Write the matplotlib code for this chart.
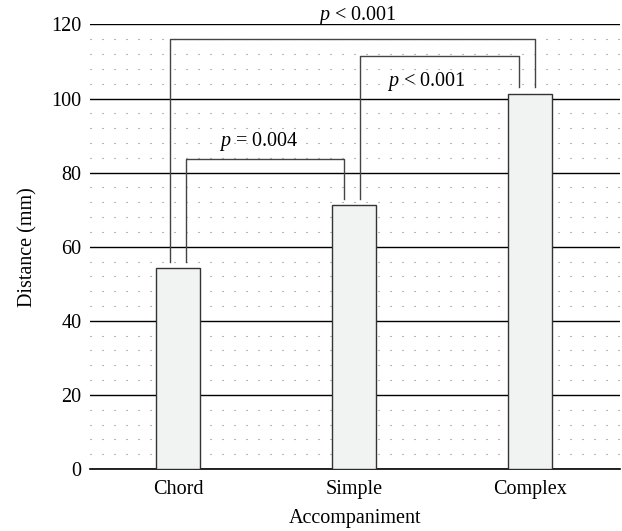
import matplotlib
matplotlib.use("Agg")
import matplotlib.pyplot as plt
from matplotlib.ticker import MultipleLocator

plt.rcParams['font.family'] = ['Liberation Serif', 'DejaVu Serif']
plt.rcParams['mathtext.fontset'] = 'custom'
plt.rcParams['mathtext.it'] = 'Liberation Serif:italic'
plt.rcParams['mathtext.rm'] = 'Liberation Serif'
plt.rcParams['lines.scale_dashes'] = False

# data
categories = ['Chord', 'Simple', 'Complex']
distance = [54.3, 71.4, 101.3]

# significance brackets: (left bar, right bar, left offset, right offset,
#                         left foot, right foot, top, label, label y)
brackets = [
    (0, 1, 0.043, -0.058, 56, 73, 83.6, '$p$ = 0.004', 88.5),
    (0, 2, -0.047, 0.027, 56, 103, 116, '$p$ < 0.001', 122.3),
    (1, 2, 0.034, -0.0625, 73, 103, 111.5, '$p$ < 0.001', 104.5),
]
label_x = [0.46, 1.02, 1.41]

FS = 14.5

fig = plt.figure(figsize=(6.22, 5.31), dpi=100)
ax = fig.add_axes([0.1447, 0.1168, 0.8521, 0.8371])

x = list(range(len(categories)))
ax.bar(x, distance, width=0.25, color='#f1f2f2', edgecolor='#333333',
       linewidth=1.0, zorder=3)

ax.set_xlim(-0.5, 2.51)
ax.set_ylim(0, 120)
ax.yaxis.set_major_locator(MultipleLocator(20))
ax.yaxis.set_minor_locator(MultipleLocator(4))
ax.set_axisbelow(True)
ax.grid(axis='y', which='major', color='black', linewidth=1.0)
ax.grid(axis='y', which='minor', color='#7a7a7a', linewidth=0.8,
        linestyle=(0, (0.75, 7.89)))

for s in ['top', 'right', 'left']:
    ax.spines[s].set_visible(False)
ax.spines['bottom'].set_linewidth(1.2)
ax.tick_params(axis='both', which='both', length=0, labelsize=FS)
ax.tick_params(axis='y', pad=6)
ax.tick_params(axis='x', pad=8)
ax.set_xticks(x)
ax.set_xticklabels(categories)

ax.set_ylabel('Distance (mm)', fontsize=FS, labelpad=10)
ax.set_xlabel('Accompaniment', fontsize=FS, labelpad=7)

for (a, b, oa, ob, fa, fb, top, lab, ly), lx in zip(brackets, label_x):
    xa = a + oa
    xb = b + ob
    ax.plot([xa, xa, xb, xb], [fa, top, top, fb], color='#444444',
            linewidth=1.0, zorder=4, clip_on=False)
    ax.text(lx, ly, lab, fontsize=FS, ha='center', va='center',
            zorder=5, clip_on=False)

fig.savefig('out.png', dpi=100)
